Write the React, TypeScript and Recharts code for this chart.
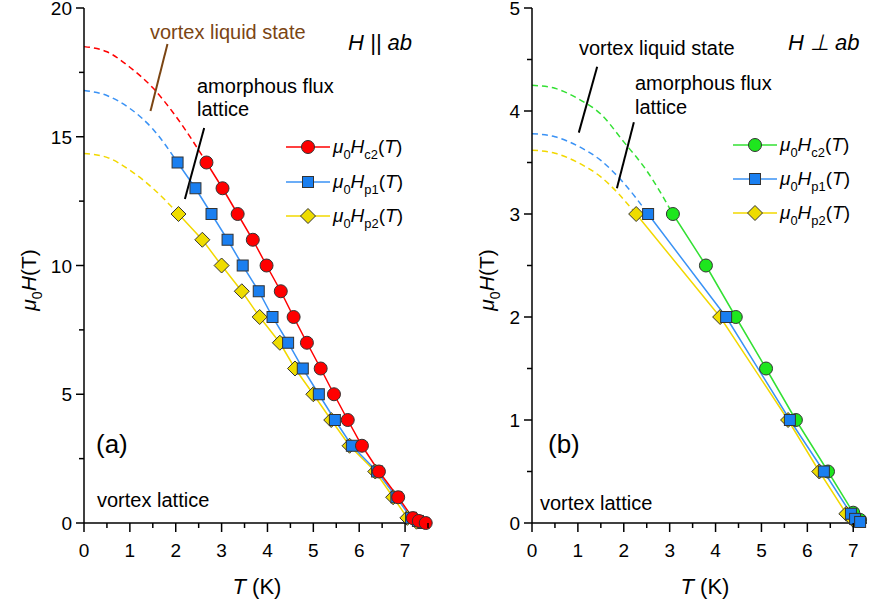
import React from "react";
import { LineChart, Line, XAxis, YAxis, ReferenceLine } from "recharts";

const FONT = '"Liberation Sans", Arial, Helvetica, sans-serif';

// ---- panel (a): H || ab ----
const tc2A = [2.67, 3.02, 3.35, 3.68, 3.98, 4.29, 4.57, 4.86, 5.16, 5.45, 5.75, 6.06, 6.43, 6.85, 7.17, 7.3, 7.45];
const hc2A = [14, 13, 12, 11, 10, 9, 8, 7, 6, 5, 4, 3, 2, 1, 0.19, 0.08, 0];
const tp1A = [2.04, 2.43, 2.78, 3.13, 3.46, 3.81, 4.11, 4.45, 4.77, 5.12, 5.47, 5.84, 6.39, 6.81, 7.13, 7.28, 7.4];
const hp1A = [14, 13, 12, 11, 10, 9, 8, 7, 6, 5, 4, 3, 2, 1, 0.2, 0.08, 0];
const tp2A = [2.06, 2.58, 3.0, 3.44, 3.83, 4.27, 4.6, 5.0, 5.39, 5.79, 6.35, 6.74, 7.05, 7.25];
const hp2A = [12, 11, 10, 9, 8, 7, 6, 5, 4, 3, 2, 1, 0.2, 0.05];

// dashed extrapolations to T = 0
const tc2Ax = [0, 0.5, 1, 1.5, 2, 2.67];
const hc2Ax = [18.5, 18.3, 17.7, 16.9, 15.8, 14];
const tp1Ax = [0, 0.5, 1, 1.5, 2.04];
const hp1Ax = [16.8, 16.6, 16.1, 15.3, 14];
const tp2Ax = [0, 0.5, 1, 1.5, 2.06];
const hp2Ax = [14.35, 14.2, 13.7, 13.0, 12];

// ---- panel (b): H perp ab ----
const tc2B = [3.07, 3.79, 4.44, 5.1, 5.75, 6.45, 7.0, 7.15];
const hc2B = [3, 2.5, 2, 1.5, 1, 0.5, 0.1, 0.03];
const tp1B = [2.53, 4.23, 5.62, 6.36, 6.95, 7.04, 7.15];
const hp1B = [3, 2, 1, 0.5, 0.09, 0.04, 0.01];
const tp2B = [2.27, 4.1, 5.58, 6.26, 6.85, 7.0];
const hp2B = [3, 2, 1, 0.5, 0.09, 0.03];

const tc2Bx = [0, 0.5, 1, 1.5, 2, 2.5, 3.07];
const hc2Bx = [4.25, 4.22, 4.12, 3.97, 3.7, 3.42, 3.0];
const tp1Bx = [0, 0.5, 1, 1.5, 2, 2.53];
const hp1Bx = [3.78, 3.75, 3.66, 3.52, 3.3, 3.0];
const tp2Bx = [0, 0.5, 1, 1.5, 2.27];
const hp2Bx = [3.62, 3.59, 3.5, 3.36, 3.0];

// ticks
const xTicksA = [0, 0.5, 1, 1.5, 2, 2.5, 3, 3.5, 4, 4.5, 5, 5.5, 6, 6.5, 7, 7.5];
const yTicksA = [0, 2.5, 5, 7.5, 10, 12.5, 15, 17.5, 20];
const xTicksB = [0, 0.5, 1, 1.5, 2, 2.5, 3, 3.5, 4, 4.5, 5, 5.5, 6, 6.5, 7];
const yTicksB = [0, 0.5, 1, 1.5, 2, 2.5, 3, 3.5, 4, 4.5, 5];

// pointer lines next to the region labels [T, H]
const liquidPtrA = [[1.82, 18.6], [1.45, 16.0]];
const amorphPtrA = [[2.62, 15.34], [2.2, 12.58]];
const liquidPtrB = [[1.42, 4.43], [1.02, 3.79]];
const amorphPtrB = [[2.22, 3.89], [1.85, 3.25]];

const RED = "#ff0000";
const BLUE_F = "#1a7ff0";
const BLUE_L = "#3a92f5";
const YEL_F = "#eedc00";
const YEL_L = "#f2d800";
const GRN_F = "#1ee61e";
const GRN_L = "#33e033";
const BROWN = "#7b4513";

const zip = (t: number[], h: number[]) => t.map((T, i) => ({ T, H: h[i] }));
const isMajor = (v: number, step: number) => Math.abs(v / step - Math.round(v / step)) < 1e-6;

function Marker({ kind, cx, cy, fill }: any) {
  if (kind === "circle") return <circle cx={cx} cy={cy} r={6.5} fill={fill} stroke="#333" strokeWidth={1} />;
  if (kind === "square") return <rect x={cx - 5.5} y={cy - 5.5} width={11} height={11} fill={fill} stroke="#333" strokeWidth={1} />;
  const d = 7.5;
  return <polygon points={`${cx},${cy - d} ${cx + d},${cy} ${cx},${cy + d} ${cx - d},${cy}`} fill={fill} stroke="#333" strokeWidth={1} />;
}

const dotOf = (kind: string, fill: string) => (p: any) => (
  <Marker key={`${kind}-${p.index}`} kind={kind} cx={p.cx} cy={p.cy} fill={fill} />
);

const BottomTick = ({ x, y, payload }: any) => {
  const major = isMajor(payload.value, 1);
  return (
    <g>
      <line x1={x} x2={x} y1={y} y2={y + (major ? 9 : 5)} stroke="#000" strokeWidth={1.5} />
      {major && (
        <text x={x} y={y + 34} textAnchor="middle" fontSize={19} fontFamily={FONT} fill="#000">
          {payload.value}
        </text>
      )}
    </g>
  );
};

const TopTick = ({ x, y }: any) => <line x1={x} x2={x} y1={y} y2={y + 7} stroke="#000" strokeWidth={1.5} />;
const RightTick = ({ x, y }: any) => <line x1={x - 7} x2={x} y1={y} y2={y} stroke="#000" strokeWidth={1.5} />;

const leftTick = (step: number) => ({ x, y, payload }: any) => {
  const major = isMajor(payload.value, step);
  return (
    <g>
      <line x1={x - (major ? 8 : 5)} x2={x} y1={y} y2={y} stroke="#000" strokeWidth={1.5} />
      {major && (
        <text x={x - 12} y={y + 7} textAnchor="end" fontSize={19} fontFamily={FONT} fill="#000">
          {payload.value}
        </text>
      )}
    </g>
  );
};

type Series = { t: number[]; h: number[]; line: string; fill?: string; kind?: string; dashed?: boolean };

function Panel({ width, yAxisWidth, marginRight, xMax, yMax, xTicks, yTicks, yStep, series, pointers }: any) {
  const axisLine = { stroke: "#000", strokeWidth: 1.5 };
  return (
    <LineChart width={width} height={609} margin={{ top: 8, right: marginRight, bottom: 0, left: 0 }}>
      <XAxis xAxisId="b" type="number" dataKey="T" domain={[0, xMax]} ticks={xTicks} interval={0}
        height={86} tickSize={0} tickMargin={0} tickLine={false} axisLine={axisLine} tick={BottomTick} />
      <XAxis xAxisId="t" orientation="top" type="number" dataKey="T" domain={[0, xMax]} ticks={xTicks} interval={0}
        height={0} tickSize={0} tickMargin={0} tickLine={false} axisLine={axisLine} tick={TopTick} />
      <YAxis yAxisId="l" type="number" domain={[0, yMax]} ticks={yTicks} interval={0}
        width={yAxisWidth} tickSize={0} tickMargin={0} tickLine={false} axisLine={axisLine} tick={leftTick(yStep)} />
      <YAxis yAxisId="r" orientation="right" type="number" domain={[0, yMax]} ticks={yTicks} interval={0}
        width={0} tickSize={0} tickMargin={0} tickLine={false} axisLine={axisLine} tick={RightTick} />
      {series.map((s: Series, i: number) => (
        <Line key={i} xAxisId="b" yAxisId="l" data={zip(s.t, s.h)} dataKey="H"
          type={s.dashed ? "monotone" : "linear"} stroke={s.line} strokeWidth={1.5}
          strokeDasharray={s.dashed ? "6 4" : undefined}
          dot={s.dashed ? false : dotOf(s.kind as string, s.fill as string)}
          activeDot={false} legendType="none" isAnimationActive={false} />
      ))}
      {pointers.map((p: any, i: number) => (
        <ReferenceLine key={`p${i}`} xAxisId="b" yAxisId="l"
          segment={[{ x: p.pts[0][0], y: p.pts[0][1] }, { x: p.pts[1][0], y: p.pts[1][1] }]}
          stroke={p.color} strokeWidth={2} />
      ))}
    </LineChart>
  );
}

function Note({ x, y, size = 20, color = "#000", italic = false, children }: any) {
  return (
    <div style={{ position: "absolute", left: x, top: y, transform: "translateY(-50%)", fontSize: size,
      lineHeight: 1, whiteSpace: "nowrap", color, fontStyle: italic ? "italic" : "normal" }}>
      {children}
    </div>
  );
}

const Sub = ({ children }: any) => (
  <span style={{ fontSize: "0.68em", position: "relative", top: "0.45em" }}>{children}</span>
);

const HLabel = ({ sub }: any) => (
  <span>
    <i>μ</i><Sub>0</Sub><i>H</i><Sub>{sub}</Sub>(<i>T</i>)
  </span>
);

function LegendRow({ x, y, line, fill, kind, sub }: any) {
  return (
    <>
      <svg style={{ position: "absolute", left: x, top: y - 9 }} width={46} height={18}>
        <line x1={0} x2={44} y1={9} y2={9} stroke={line} strokeWidth={1.5} />
        <Marker kind={kind} cx={22} cy={9} fill={fill} />
      </svg>
      <Note x={x + 47} y={y - 1} size={19}><HLabel sub={sub} /></Note>
    </>
  );
}

function YTitle({ x, y }: any) {
  return (
    <div style={{ position: "absolute", left: x, top: y, transform: "translate(-50%, -50%) rotate(-90deg)",
      fontSize: 21, lineHeight: 1, whiteSpace: "nowrap" }}>
      <i>μ</i><Sub>0</Sub><i>H</i>(T)
    </div>
  );
}

function XTitle({ x, y }: any) {
  return (
    <div style={{ position: "absolute", left: x, top: y, transform: "translate(-50%, -50%)",
      fontSize: 22, lineHeight: 1, whiteSpace: "nowrap" }}>
      <i>T</i> (K)
    </div>
  );
}

export default function App() {
  const seriesA: Series[] = [
    { t: tp2Ax, h: hp2Ax, line: YEL_L, dashed: true },
    { t: tp1Ax, h: hp1Ax, line: BLUE_L, dashed: true },
    { t: tc2Ax, h: hc2Ax, line: RED, dashed: true },
    { t: tp2A, h: hp2A, line: YEL_L, fill: YEL_F, kind: "diamond" },
    { t: tp1A, h: hp1A, line: BLUE_L, fill: BLUE_F, kind: "square" },
    { t: tc2A, h: hc2A, line: RED, fill: RED, kind: "circle" },
  ];
  const seriesB: Series[] = [
    { t: tp2Bx, h: hp2Bx, line: YEL_L, dashed: true },
    { t: tp1Bx, h: hp1Bx, line: BLUE_L, dashed: true },
    { t: tc2Bx, h: hc2Bx, line: GRN_L, dashed: true },
    { t: tc2B, h: hc2B, line: GRN_L, fill: GRN_F, kind: "circle" },
    { t: tp2B, h: hp2B, line: YEL_L, fill: YEL_F, kind: "diamond" },
    { t: tp1B, h: hp1B, line: BLUE_L, fill: BLUE_F, kind: "square" },
  ];

  return (
    <div style={{ position: "absolute", left: 0, top: 0, width: 870, height: 609, background: "#fff",
      fontFamily: FONT, color: "#000", overflow: "hidden" }}>
      <div style={{ position: "absolute", left: 0, top: 0 }}>
        <Panel width={440} yAxisWidth={84} marginRight={12} xMax={7.5} yMax={20}
          xTicks={xTicksA} yTicks={yTicksA} yStep={5} series={seriesA}
          pointers={[{ pts: liquidPtrA, color: BROWN }, { pts: amorphPtrA, color: "#000" }]} />
      </div>
      <div style={{ position: "absolute", left: 440, top: 0 }}>
        <Panel width={430} yAxisWidth={92} marginRight={3} xMax={7.3} yMax={5}
          xTicks={xTicksB} yTicks={yTicksB} yStep={1} series={seriesB}
          pointers={[{ pts: liquidPtrB, color: "#000" }, { pts: amorphPtrB, color: "#000" }]} />
      </div>

      {/* panel (a) texts */}
      <Note x={150} y={32} color={BROWN}>vortex liquid state</Note>
      <Note x={348} y={43} size={22} italic>H || ab</Note>
      <Note x={197} y={86}>amorphous flux</Note>
      <Note x={197} y={109}>lattice</Note>
      <Note x={96} y={444} size={26}>(a)</Note>
      <Note x={97} y={500}>vortex lattice</Note>
      <LegendRow x={286} y={147} line={RED} fill={RED} kind="circle" sub="c2" />
      <LegendRow x={286} y={182} line={BLUE_L} fill={BLUE_F} kind="square" sub="p1" />
      <LegendRow x={286} y={216} line={YEL_L} fill={YEL_F} kind="diamond" sub="p2" />
      <YTitle x={28} y={280} />
      <XTitle x={257} y={587} />

      {/* panel (b) texts */}
      <Note x={579} y={48}>vortex liquid state</Note>
      <Note x={788} y={43} size={22} italic>H ⊥ ab</Note>
      <Note x={635} y={83}>amorphous flux</Note>
      <Note x={635} y={107}>lattice</Note>
      <Note x={548} y={444} size={26}>(b)</Note>
      <Note x={540} y={503}>vortex lattice</Note>
      <LegendRow x={733} y={145} line={GRN_L} fill={GRN_F} kind="circle" sub="c2" />
      <LegendRow x={733} y={179} line={BLUE_L} fill={BLUE_F} kind="square" sub="p1" />
      <LegendRow x={733} y={213} line={YEL_L} fill={YEL_F} kind="diamond" sub="p2" />
      <YTitle x={486} y={280} />
      <XTitle x={705} y={587} />
    </div>
  );
}
